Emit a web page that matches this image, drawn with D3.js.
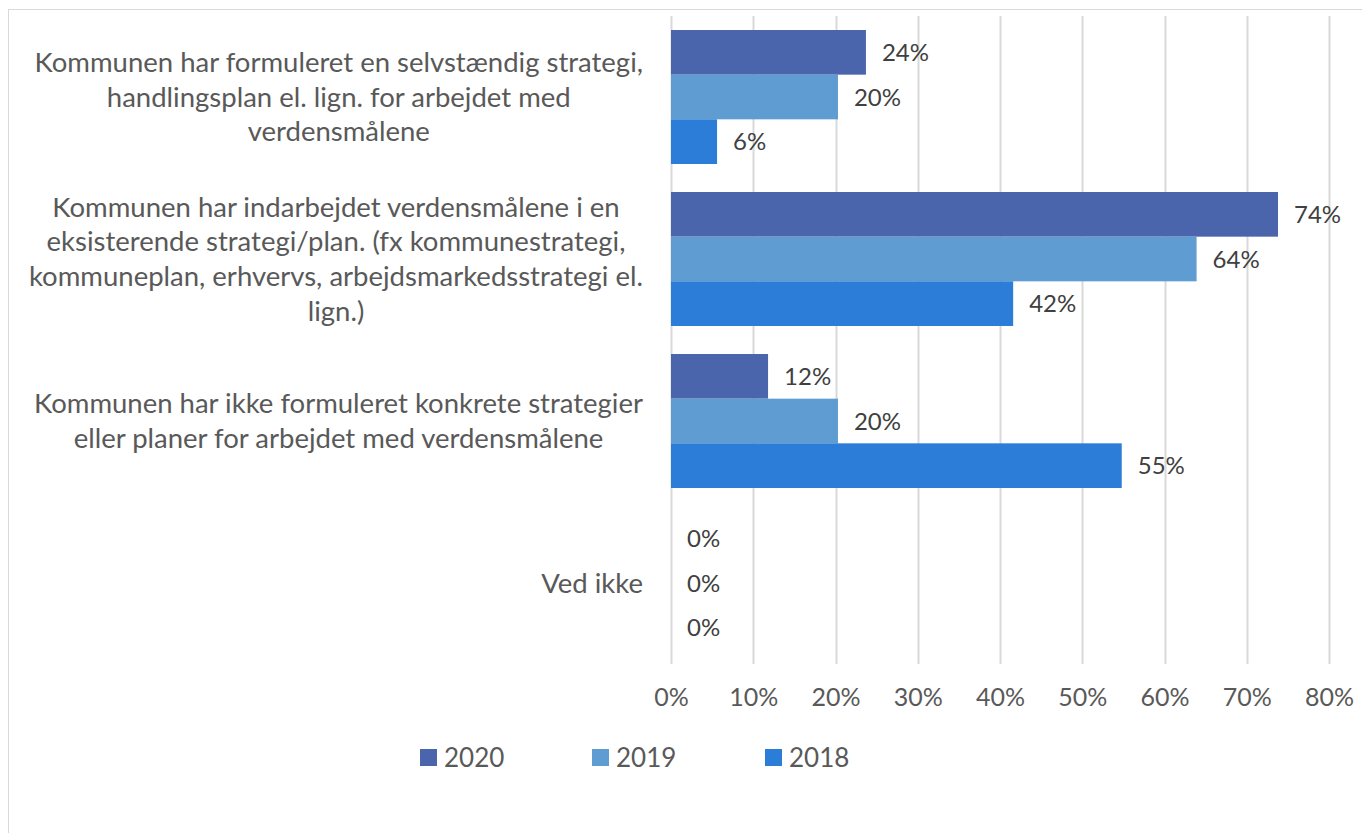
<!DOCTYPE html>
<html>
<head>
<meta charset="utf-8">
<script src="https://cdn.jsdelivr.net/npm/d3@7"></script>
<style>
  body { margin: 0; background: #fff; }
  text { font-family: Lato, "Open Sans", sans-serif; }
</style>
</head>
<body>
<script>
// Categories (each label split into its wrapped lines)
const categories = [
  ["Kommunen har formuleret en selvstændig strategi,", "handlingsplan el. lign. for arbejdet med", "verdensmålene"],
  ["Kommunen har indarbejdet verdensmålene i en", "eksisterende strategi/plan. (fx kommunestrategi,", "kommuneplan, erhvervs, arbejdsmarkedsstrategi el.", "lign.)"],
  ["Kommunen har ikke formuleret konkrete strategier", "eller planer for arbejdet med verdensmålene"],
  ["Ved ikke"]
];
const years = ["2020", "2019", "2018"];
const values2020 = [0.237, 0.738, 0.118, 0];
const values2019 = [0.203, 0.639, 0.203, 0];
const values2018 = [0.056, 0.416, 0.548, 0];
const ticks = [0, 0.1, 0.2, 0.3, 0.4, 0.5, 0.6, 0.7, 0.8];
const colors = ["#4A65AC", "#5F9CD2", "#2B7DD8"];

const series = [values2020, values2019, values2018];
const W = 1362, H = 833;

const svg = d3.select("body").append("svg")
  .attr("width", W).attr("height", H);

// chart frame
svg.append("rect")
  .attr("x", 8.5).attr("y", 9.5)
  .attr("width", W + 10).attr("height", H + 10)
  .attr("fill", "#fff").attr("stroke", "#d9d9d9").attr("stroke-width", 1);

const x = d3.scaleLinear().domain([0, 0.8]).range([671, 1329]);
const y = d3.scaleBand().domain(d3.range(categories.length)).range([16, 664]).paddingInner(0.173).paddingOuter(0.0865);
const yInner = d3.scaleBand().domain(years).range([0, y.bandwidth()]);

// gridlines
svg.append("g").selectAll("line")
  .data(ticks)
  .join("line")
    .attr("x1", d => Math.round(x(d)) + 0.5)
    .attr("x2", d => Math.round(x(d)) + 0.5)
    .attr("y1", 16).attr("y2", 664)
    .attr("stroke", "#d9d9d9").attr("stroke-width", 2);

// x axis labels
const xAxis = svg.append("g")
  .attr("transform", "translate(0,664)")
  .call(d3.axisBottom(x).tickValues(ticks).tickFormat(d3.format(".0%")).tickSize(0).tickPadding(24));
xAxis.select(".domain").remove();
xAxis.selectAll("text")
  .attr("font-size", 25).attr("fill", "#595959")
  .attr("font-family", "Lato, 'Open Sans', sans-serif");

// bars
const groups = svg.append("g").selectAll("g")
  .data(years)
  .join("g")
    .attr("fill", (d, i) => colors[i]);

groups.selectAll("rect")
  .data((yr, i) => series[i].map((v, c) => ({ v, c, yr })))
  .join("rect")
    .attr("x", x(0))
    .attr("y", d => y(d.c) + yInner(d.yr))
    .attr("width", d => x(d.v) - x(0))
    .attr("height", yInner.bandwidth());

// data labels
groups.selectAll("text")
  .data((yr, i) => series[i].map((v, c) => ({ v, c, yr })))
  .join("text")
    .attr("x", d => x(d.v) + 16)
    .attr("y", d => y(d.c) + yInner(d.yr) + yInner.bandwidth() / 2)
    .attr("dy", "0.36em")
    .attr("font-size", 24)
    .attr("fill", "#404040")
    .text(d => d3.format(".0%")(d.v));

// category labels: lines centred in their block, block right-aligned to the axis
const lineH = 34.7;
const labelRight = 643;
const catText = svg.append("g").selectAll("text")
  .data(categories)
  .join("text")
    .attr("text-anchor", "middle")
    .attr("font-size", 27.5)
    .attr("fill", "#595959");
catText.selectAll("tspan")
  .data(d => d)
  .join("tspan")
    .attr("x", 0)
    .attr("y", (d, i) => i * lineH)
    .attr("dy", "0.35em")
    .text(d => d);
catText.attr("transform", function(d, i) {
  const maxW = d3.max(d3.select(this).selectAll("tspan").nodes(), n => n.getComputedTextLength());
  const cy = y(i) + y.bandwidth() / 2 - (d.length - 1) * lineH / 2;
  return `translate(${labelRight - maxW / 2},${cy})`;
});

// legend
const legendX = [420, 592, 765];
const legend = svg.append("g").selectAll("g")
  .data(years)
  .join("g")
    .attr("transform", (d, i) => `translate(${legendX[i]},749)`);
legend.append("rect")
  .attr("width", 17).attr("height", 17)
  .attr("fill", (d, i) => colors[i]);
legend.append("text")
  .attr("x", 24).attr("y", 8.5).attr("dy", "0.36em")
  .attr("font-size", 26).attr("fill", "#595959")
  .text(d => d);
</script>
</body>
</html>
